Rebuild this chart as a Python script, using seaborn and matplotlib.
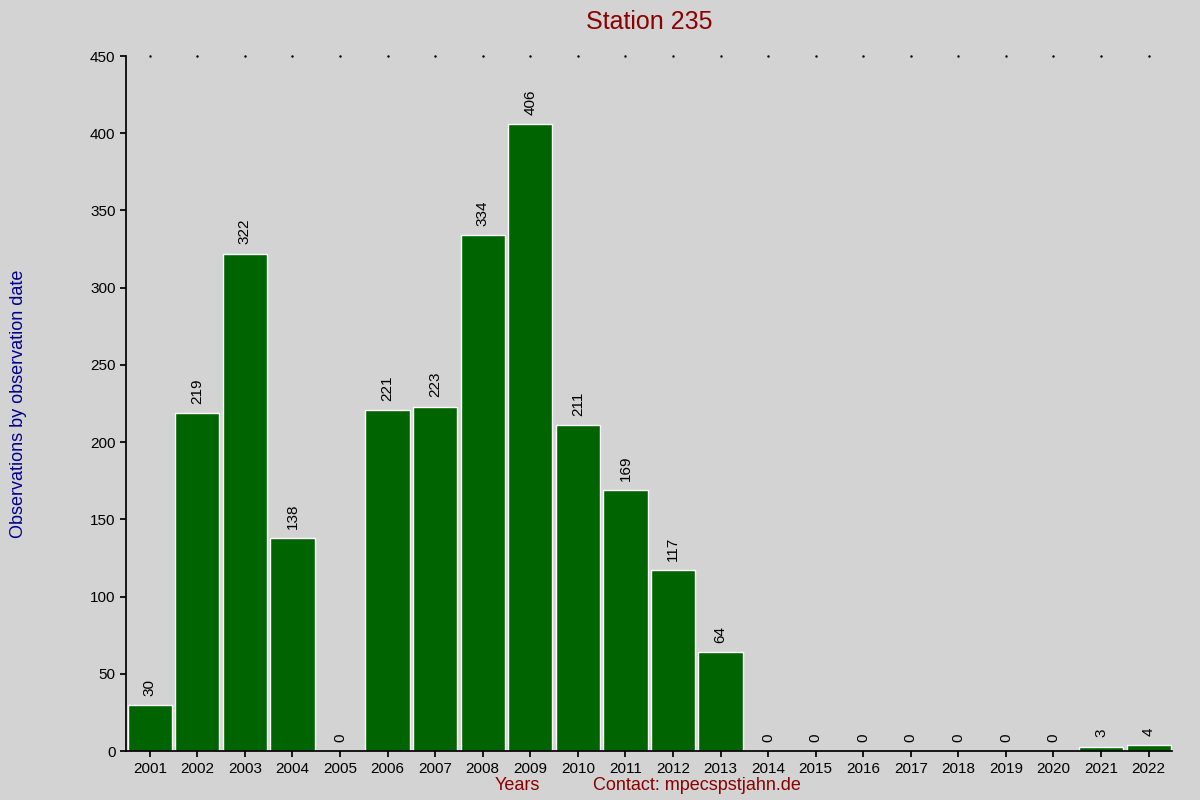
import matplotlib
matplotlib.use("Agg")
import matplotlib.pyplot as plt
import seaborn as sns
import pandas as pd

years = [str(y) for y in range(2001, 2023)]
counts = [30, 219, 322, 138, 0, 221, 223, 334, 406, 211, 169, 117, 64, 0, 0, 0, 0, 0, 0, 0, 3, 4]

sns.set_theme(style="white")
plt.rcParams['font.family'] = ['Liberation Sans', 'DejaVu Sans']
bg = "#d3d3d3"
fig = plt.figure(figsize=(12, 8), dpi=100, facecolor=bg)
ax = fig.add_axes([0.105, 0.061, 0.872, 0.869])
ax.set_facecolor(bg)
df = pd.DataFrame({"year": years, "n": counts})
sns.barplot(data=df, x="year", y="n", color="#006400", saturation=1, width=0.93, ax=ax)
ax.set_xlim(-0.5, len(years) - 0.5)
ax.set_ylim(0, 450)
ax.set_yticks(range(0, 451, 50))
for i, v in enumerate(counts):
    ax.text(i, v + 6, str(v), rotation=90, ha="center", va="bottom", fontsize=11, color="black")
    ax.plot(i, 450, marker=".", ms=1.5, color="black", clip_on=False)
for s in ["top", "right"]:
    ax.spines[s].set_visible(False)
for s in ["left", "bottom"]:
    ax.spines[s].set_color("black")
ax.tick_params(axis="both", labelsize=11, colors="black", length=4, direction="out", left=True, bottom=True)
ax.set_xlabel("")
ax.set_ylabel("Observations by observation date", color="#00008b", fontsize=13)
ax.yaxis.set_label_coords(-0.095, 0.5)
fig.text(0.541, 0.972, "Station 235", ha="center", va="center", color="#8b0000", fontsize=18)
fig.text(0.431, 0.018, "Years", ha="center", va="center", color="#8b0000", fontsize=13)
fig.text(0.581, 0.018, "Contact: mpecspstjahn.de", ha="center", va="center", color="#8b0000", fontsize=13)
fig.savefig("out.png", dpi=100, facecolor=bg)
